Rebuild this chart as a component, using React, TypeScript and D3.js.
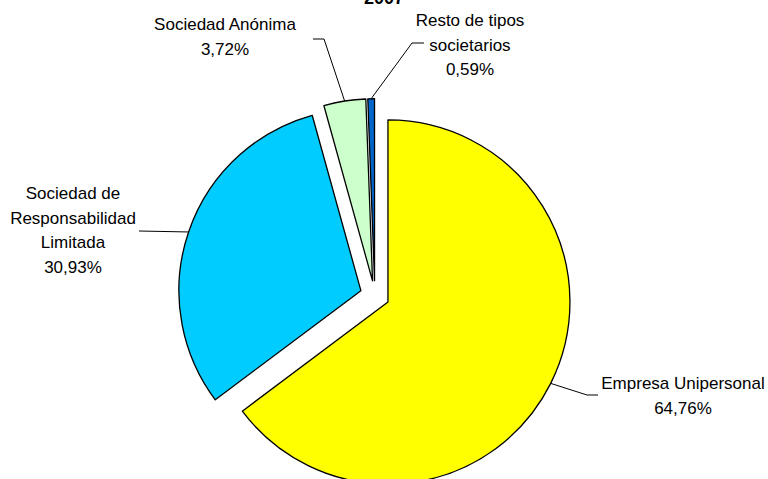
import React from "react";
import * as d3 from "d3";

const categories = [
  "Empresa Unipersonal",
  "Sociedad de Responsabilidad Limitada",
  "Sociedad Anónima",
  "Resto de tipos societarios",
];
const values = [64.76, 30.93, 3.72, 0.59];
const valueLabels = ["64,76%", "30,93%", "3,72%", "0,59%"];
const labelLines = [
  ["Empresa Unipersonal", "64,76%"],
  ["Sociedad de", "Responsabilidad", "Limitada", "30,93%"],
  ["Sociedad Anónima", "3,72%"],
  ["Resto de tipos", "societarios", "0,59%"],
];
const colors = ["#FFFF00", "#00CCFF", "#CCFFCC", "#0066CC"];
const title = "2007";

// layout (not data)
const W = 768;
const H = 479;
const cx = 374.8;
const cy = 295.4;
const R = 182;
const EXPLODE = 14.7;
const labelPos = [
  { x: 683, y: 389, elbow: [[598, 395], [587, 395]] },
  { x: 73, y: 199, elbow: [[139, 231]] },
  { x: 225, y: 30, elbow: [[313, 39], [324, 39]] },
  { x: 470, y: 26, elbow: [[424, 43], [412, 43]] },
];
const LINE_H = 24.5;

export default function App() {
  const pie = d3
    .pie<number>()
    .sort(null)
    .startAngle(0)
    .endAngle(2 * Math.PI)
    .value((d) => d);
  const arcs = pie(values);
  const arcGen = d3.arc<d3.PieArcDatum<number>>().innerRadius(0).outerRadius(R);

  return (
    <svg
      width={W}
      height={H}
      style={{ position: "absolute", left: 0, top: 0, background: "#fff" }}
      fontFamily="'Liberation Sans', Arial, sans-serif"
    >
      <text x={384} y={4} textAnchor="middle" fontSize={18} fontWeight="bold" fill="#000">
        {title}
      </text>
      {arcs.map((a, i) => {
        const mid = (a.startAngle + a.endAngle) / 2;
        const ox = cx + EXPLODE * Math.sin(mid);
        const oy = cy - EXPLODE * Math.cos(mid);
        const ex = ox + R * Math.sin(mid);
        const ey = oy - R * Math.cos(mid);
        const lp = labelPos[i];
        const pts = [...lp.elbow, [ex, ey]];
        const path = d3.line()(pts as [number, number][]);
        return (
          <g key={categories[i]}>
            <path
              d={arcGen(a) || ""}
              transform={`translate(${ox},${oy})`}
              fill={colors[i]}
              stroke="#000"
              strokeWidth={1.3}
              strokeLinejoin="round"
            />
            <path d={path || ""} fill="none" stroke="#000" strokeWidth={1} />
            <text textAnchor="middle" fontSize={17} fill="#000">
              {labelLines[i].map((t, j) => (
                <tspan key={j} x={lp.x} y={lp.y + j * LINE_H}>
                  {t}
                </tspan>
              ))}
            </text>
          </g>
        );
      })}
      <desc>{valueLabels.join(" ")}</desc>
    </svg>
  );
}
